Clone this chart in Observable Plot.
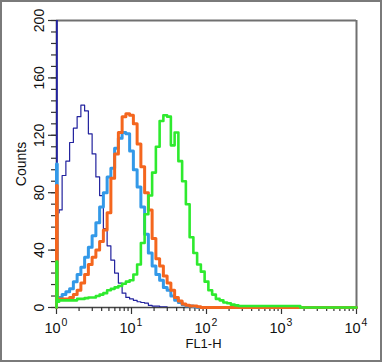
<!DOCTYPE html>
<html>
<head>
<meta charset="utf-8">
<script src="https://cdn.jsdelivr.net/npm/d3@7"></script>
<script src="https://cdn.jsdelivr.net/npm/@observablehq/plot@0.6"></script>
<style>
  html, body { margin: 0; padding: 0; background: #fff; }
  #wrap { position: relative; width: 384px; height: 364px; }
  #border { position: absolute; left: 0; top: 0; width: 382px; height: 362px; box-sizing: border-box; border: 2px solid #7a7a7a; pointer-events: none; }
</style>
</head>
<body>
<div id="wrap"><div id="border"></div></div>
<script>
// Channel positions, in decades of FL1-H (10^d)
const decades = [0, 0.02, 0.05, 0.10, 0.15, 0.20, 0.25, 0.30, 0.35, 0.40, 0.45, 0.50, 0.55, 0.60, 0.65, 0.70, 0.75, 0.80, 0.85, 0.90, 0.95, 1.00, 1.05, 1.10, 1.15, 1.20, 1.25, 1.30, 1.35, 1.40, 1.45, 1.50, 1.55, 1.60, 1.65, 1.70, 1.75, 1.80, 1.85, 1.90, 1.95, 2.00, 2.05, 2.10, 2.15, 2.20, 2.25, 2.30, 2.35, 2.40, 2.45, 2.50, 4.00];

// Counts per channel for each histogram
const navyCounts = [240, 66, 68, 92, 102, 115, 125, 133, 141, 137, 121, 107, 91, 78, 55, 43, 33, 24, 17, 10, 7, 6, 5, 4, 3.5, 3, 1.5, 1, 1, 0.5, 0.5, 0, 0, 0, 0, 0, 0, 0, 0, 0, 0, 0, 0, 0, 0, 0, 0, 0, 0, 0, 0, 0, 0];
const lightBlueCounts = [100, 6, 7, 9, 11, 13, 18, 23, 28, 35, 42, 50, 59, 70, 80, 91, 97, 111, 118, 122, 121, 109, 96, 84, 70, 51, 38, 29, 23, 19, 14, 12, 8, 5, 3.5, 2, 1, 1, 0.5, 0, 0, 0, 0, 0, 0, 0, 0, 0, 0, 0, 0, 0, 0];
const orangeCounts = [85, 6, 6, 6, 6, 7, 9, 12, 17, 23, 30, 35, 40, 46, 54, 66, 90, 107, 122, 133, 135, 134, 128, 114, 98, 80, 68, 48, 34, 29, 22, 17, 12, 7, 4.5, 2.5, 1.5, 1, 1, 0.5, 0, 0, 0, 0, 0, 0, 0, 0, 0, 0, 0, 0, 0];
const greenCounts = [32, 4, 5, 5, 5, 5, 5, 6, 6, 6.5, 7, 7, 8, 9, 10, 12, 13, 14, 15, 16.5, 18, 19, 23, 30, 45, 65, 78, 94, 112, 130, 134, 133, 113, 122, 102, 88, 72, 49, 38, 30, 25, 18, 12, 9, 6, 5, 3.5, 3, 2, 1.5, 1, 1, 0];

const seriesNames = ["navy", "lightblue", "orange", "green"];
const seriesColors = ["#22229e", "#3399e8", "#f4661e", "#2eea2e"];
const seriesWidths = [1.2, 3, 3, 2.6];
const seriesCounts = [navyCounts, lightBlueCounts, orangeCounts, greenCounts];

// Axes
const xDomain = [1, 10000];
const yDomain = [0, 200];
const xTicks = [1, 10, 100, 1000, 10000];
const xTickBase = ["10", "10", "10", "10", "10"];
const xTickExponents = ["0", "1", "2", "3", "4"];
const yTicks = [0, 40, 80, 120, 160, 200];
const yMinorTicks = d3.range(0, 201, 8);
const xMinorTicks = [1, 10, 100, 1000].flatMap(p => [2, 3, 4, 5, 6, 7, 8, 9].map(k => k * p));
const xLabel = "FL1-H";
const yLabel = "Counts";

const lines = seriesCounts.map((counts, si) => {
  const rows = [{x: 10 ** decades[0], y: 0}].concat(decades.map((d, i) => ({x: 10 ** d, y: counts[i]})));
  return Plot.line(rows, {
    x: "x", y: "y", curve: "step",
    stroke: seriesColors[si], strokeWidth: seriesWidths[si],
    clip: si === 0
  });
});

const chart = Plot.plot({
  width: 384,
  height: 364,
  marginTop: 20,
  marginRight: 28,
  marginBottom: 57,
  marginLeft: 56,
  style: {fontFamily: "'Liberation Sans', Arial, sans-serif", background: "transparent", color: "#111"},
  x: {type: "log", domain: xDomain, axis: null},
  y: {domain: yDomain, axis: null},
  marks: [
    Plot.ruleY([yDomain[1]], {stroke: "#707070", strokeWidth: 2}),
    Plot.ruleX([xDomain[1]], {stroke: "#707070", strokeWidth: 2}),
    Plot.ruleY([yDomain[0]], {stroke: "#444", strokeWidth: 1.5}),
    Plot.ruleX([xDomain[0]], {stroke: "#333", strokeWidth: 1.5}),
    Plot.axisX({ticks: xMinorTicks, tickSize: 4, tickFormat: () => "", label: null, strokeWidth: 1.2, color: "#333"}),
    Plot.axisX({ticks: xTicks, tickSize: 7, tickFormat: () => "", label: null, strokeWidth: 1.2, color: "#333"}),
    Plot.axisY({ticks: yMinorTicks, tickSize: 5, tickFormat: () => "", label: null, strokeWidth: 1.2, color: "#333"}),
    Plot.axisY({ticks: yTicks, tickSize: 8, tickFormat: () => "", label: null, strokeWidth: 1.2, color: "#333"}),
    ...lines,
    Plot.text(xTicks, {x: d => d, text: (d, i) => xTickBase[i], frameAnchor: "bottom", dy: 25, dx: -4, lineAnchor: "bottom", textAnchor: "middle", fontSize: 14.5, fill: "#111"}),
    Plot.text(xTicks, {x: d => d, text: (d, i) => xTickExponents[i], frameAnchor: "bottom", dy: 18, dx: 8, lineAnchor: "bottom", textAnchor: "middle", fontSize: 10.5, fill: "#111"}),
    Plot.text(yTicks, {y: d => d, text: d => String(d), frameAnchor: "left", dx: -13, rotate: -90, lineAnchor: "bottom", textAnchor: "middle", fontSize: 14, fill: "#111"}),
    Plot.text([xLabel], {text: d => d, frameAnchor: "bottom", dy: 40.5, dx: -3, lineAnchor: "bottom", textAnchor: "middle", fontSize: 13, fill: "#111"}),
    Plot.text([yLabel], {text: d => d, frameAnchor: "left", dx: -31, rotate: -90, lineAnchor: "bottom", textAnchor: "middle", fontSize: 14, fill: "#111"})
  ]
});
document.getElementById("wrap").insertBefore(chart, document.getElementById("border"));
</script>
</body>
</html>
